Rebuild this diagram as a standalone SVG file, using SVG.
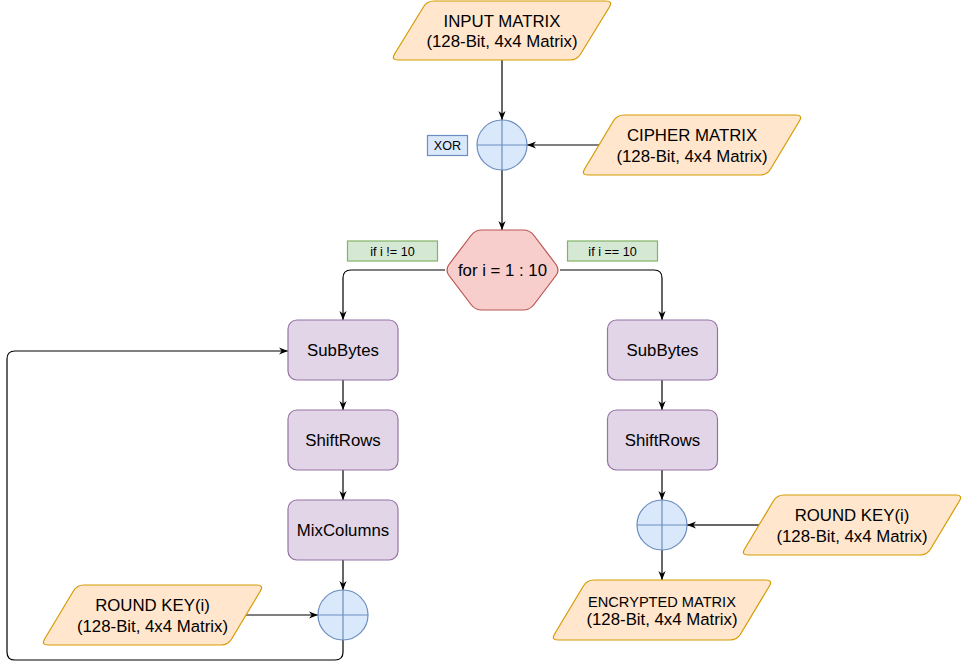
<svg xmlns="http://www.w3.org/2000/svg" width="968" height="669" viewBox="0 0 968 669">
<style>
text{font-family:"Liberation Sans",Arial,sans-serif;fill:#000;text-anchor:middle}
.t{font-size:16.8px}
.s{font-size:12.6px}
.io{fill:#ffe6cc;stroke:#d79b00;stroke-width:1.2}
.proc{fill:#e1d5e7;stroke:#9673a6;stroke-width:1.2}
.xor{fill:#dae8fc;stroke:#6c8ebf;stroke-width:1.2}
.cond{fill:#d5e8d4;stroke:#82b366;stroke-width:1.2}
.loop{fill:#f8cecc;stroke:#b85450;stroke-width:1.2}
.c{fill:none;stroke:#000;stroke-width:1.2;marker-end:url(#arr)}
.g{fill:none;stroke:#666;stroke-width:1.8;marker-end:url(#arr)}
</style>
<defs>
<marker id="arr" viewBox="0 0 10 10" refX="10" refY="5" markerWidth="9" markerHeight="9" markerUnits="userSpaceOnUse" orient="auto">
<path d="M0,1 L10,5 L0,9 L3,5 Z" fill="#000"/>
</marker>
</defs>
<g id="connectors">
<path class="c" d="M502,60 L502,120"/>
<path class="c" d="M599,145 L527,145"/>
<path class="c" d="M502,170 L502,230"/>
<path class="c" d="M445,270 L351,270 Q343,270 343,278 L343,320"/>
<path class="c" d="M560,270 L654,270 Q662,270 662,278 L662,320"/>
<path class="c" d="M343,380 L343,410"/>
<path class="c" d="M343,470 L343,500"/>
<path class="c" d="M343,560 L343,590"/>
<path class="c" d="M246,615 L318,615"/>
<path class="c" d="M343,640 L343,652 Q343,660 335,660 L15,660 Q7,660 7,652 L7,359 Q7,351 15,351 L288,351"/>
<path class="c" d="M662,380 L662,410"/>
<path class="c" d="M662,470 L662,500"/>
<path class="g" d="M759,525 L687,525"/>
<path class="c" d="M662,550 L662,580"/>
</g>
<g id="input-matrix">
<path class="io" d="M434,1 L606,1 Q613,1 609.4,7 L580.6,54 Q577,60 570,60 L398,60 Q391,60 394.6,54 L423.4,7 Q427,1 434,1 Z"/>
<text class="t" x="502" y="26.5">INPUT MATRIX</text>
<text class="t" x="502" y="47">(128-Bit, 4x4 Matrix)</text>
</g>
<g id="xor-label">
<rect class="xor" x="427.5" y="135.5" width="40" height="20"/>
<text class="s" x="447.5" y="150">XOR</text>
</g>
<g id="xor-1">
<circle class="xor" cx="502" cy="145" r="25"/>
<path d="M477,145 L527,145 M502,120 L502,170" stroke="#6c8ebf" stroke-width="1.2"/>
</g>
<g id="cipher-matrix">
<path class="io" d="M624,115 L796,115 Q803,115 799.4,121 L770.6,169 Q767,175 760,175 L588,175 Q581,175 584.6,169 L613.4,121 Q617,115 624,115 Z"/>
<text class="t" x="692" y="141">CIPHER MATRIX</text>
<text class="t" x="692" y="162">(128-Bit, 4x4 Matrix)</text>
</g>
<g id="for-loop">
<path class="loop" d="M482,230 L523,230 Q530,230 534,235.5 L556,264.5 Q560,270 556,275.5 L534,304.5 Q530,310 523,310 L482,310 Q475,310 471,304.5 L449,275.5 Q445,270 449,264.5 L471,235.5 Q475,230 482,230 Z"/>
<text class="t" x="502.5" y="276">for i = 1 : 10</text>
</g>
<g id="cond-ne">
<rect class="cond" x="347.5" y="241" width="90" height="20"/>
<text class="s" x="392.5" y="255.5">if i != 10</text>
</g>
<g id="cond-eq">
<rect class="cond" x="567.5" y="241" width="90" height="20"/>
<text class="s" x="612.5" y="255.5">if i == 10</text>
</g>
<g id="subbytes-left">
<rect class="proc" x="288" y="320" width="110" height="60" rx="9"/>
<text class="t" x="343" y="356">SubBytes</text>
</g>
<g id="shiftrows-left">
<rect class="proc" x="288" y="410" width="110" height="60" rx="9"/>
<text class="t" x="343" y="446">ShiftRows</text>
</g>
<g id="mixcolumns-left">
<rect class="proc" x="288" y="500" width="110" height="60" rx="9"/>
<text class="t" x="343" y="536">MixColumns</text>
</g>
<g id="xor-left">
<circle class="xor" cx="343" cy="615" r="25"/>
<path d="M318,615 L368,615 M343,590 L343,640" stroke="#6c8ebf" stroke-width="1.2"/>
</g>
<g id="round-key-left">
<path class="io" d="M84,585 L257,585 Q264,585 260.4,591 L231.6,639 Q228,645 221,645 L48,645 Q41,645 44.6,639 L73.4,591 Q77,585 84,585 Z"/>
<text class="t" x="152.5" y="611">ROUND KEY(i)</text>
<text class="t" x="152.5" y="632">(128-Bit, 4x4 Matrix)</text>
</g>
<g id="subbytes-right">
<rect class="proc" x="607.5" y="320" width="110" height="60" rx="9"/>
<text class="t" x="662.5" y="356">SubBytes</text>
</g>
<g id="shiftrows-right">
<rect class="proc" x="607.5" y="410" width="110" height="60" rx="9"/>
<text class="t" x="662.5" y="446">ShiftRows</text>
</g>
<g id="xor-right">
<circle class="xor" cx="662" cy="525" r="25"/>
<path d="M637,525 L687,525 M662,500 L662,550" stroke="#6c8ebf" stroke-width="1.2"/>
</g>
<g id="round-key-right">
<path class="io" d="M784,495 L956,495 Q963,495 959.4,501 L930.6,549 Q927,555 920,555 L748,555 Q741,555 744.6,549 L773.4,501 Q777,495 784,495 Z"/>
<text class="t" x="852" y="521">ROUND KEY(i)</text>
<text class="t" x="852" y="542">(128-Bit, 4x4 Matrix)</text>
</g>
<g id="encrypted-matrix">
<path class="io" d="M594,580 L766,580 Q773,580 769.4,586 L740.6,634 Q737,640 730,640 L558,640 Q551,640 554.6,634 L583.4,586 Q587,580 594,580 Z"/>
<text x="662" y="606.5" style="font-size:14.6px">ENCRYPTED MATRIX</text>
<text class="t" x="662" y="624.5">(128-Bit, 4x4 Matrix)</text>
</g>
</svg>
